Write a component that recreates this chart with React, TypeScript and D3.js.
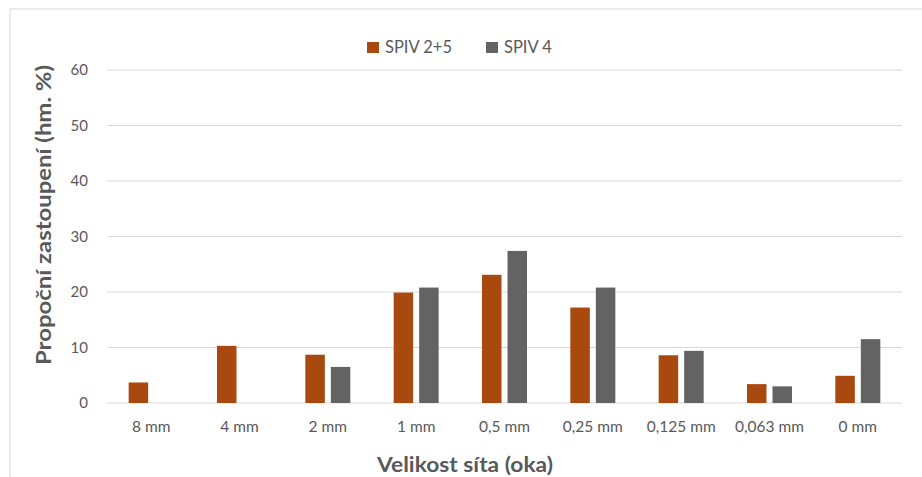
import React from 'react';
import * as d3 from 'd3';

const categories = ['8 mm', '4 mm', '2 mm', '1 mm', '0,5 mm', '0,25 mm', '0,125 mm', '0,063 mm', '0 mm'];
const spiv25 = [3.7, 10.3, 8.7, 19.9, 23.1, 17.2, 8.6, 3.4, 4.9];
const spiv4 = [0, 0, 6.5, 20.8, 27.4, 20.8, 9.4, 3.0, 11.5];
const yTicks = [0, 10, 20, 30, 40, 50, 60];
const seriesNames = ['SPIV 2+5', 'SPIV 4'];
const colors = ['#A8490F', '#636363'];

const width = 922;
const height = 477;
const margin = { top: 70, right: 20, bottom: 74, left: 107 };
const font = 'Lato, "Open Sans", sans-serif';

const App: React.FC = () => {
    const x = d3.scaleBand()
        .domain(categories)
        .range([margin.left, width - margin.right]);

    const y = d3.scaleLinear()
        .domain([0, 60])
        .range([height - margin.bottom, margin.top]);

    const barW = 19.5;
    const gap = 6;
    const sub = d3.scaleOrdinal<string, number>()
        .domain(seriesNames)
        .range([-(barW + gap / 2), gap / 2]);

    const series = [spiv25, spiv4];

    return (
        <svg width={width} height={height}
            style={{ position: 'absolute', left: 0, top: 0, background: '#fff' }}>
            {/* chart frame */}
            <line x1={10} x2={width} y1={9} y2={9} stroke="#d9d9d9" />
            <line x1={10} x2={10} y1={9} y2={height} stroke="#d9d9d9" />

            {/* grid + y ticks */}
            {yTicks.map(t => (
                <g key={t}>
                    <line x1={margin.left} x2={width - margin.right}
                        y1={y(t)} y2={y(t)} stroke="#d9d9d9" strokeWidth={1} />
                    <text x={88} y={y(t)} dy="0.35em" textAnchor="end"
                        fontFamily={font} fontSize={15} fill="#595959">{t}</text>
                </g>
            ))}

            {/* bars */}
            {series.map((vals, si) => (
                <g key={seriesNames[si]} fill={colors[si]}>
                    {vals.map((v, i) => v > 0 && (
                        <rect key={i}
                            x={(x(categories[i]) as number) + x.bandwidth() / 2 + sub(seriesNames[si])}
                            y={y(v)}
                            width={barW}
                            height={y(0) - y(v)} />
                    ))}
                </g>
            ))}

            {/* x labels */}
            {categories.map(c => (
                <text key={c} x={(x(c) as number) + x.bandwidth() / 2} y={432}
                    textAnchor="middle" fontFamily={font} fontSize={15.5} fill="#595959">{c}</text>
            ))}

            {/* axis titles */}
            <text x={465} y={472} textAnchor="middle" fontFamily={font} fontSize={21}
                fontWeight="bold" fill="#595959"
                textLength={176} lengthAdjust="spacingAndGlyphs">Velikost síta (oka)</text>
            <text transform={`translate(51,215) rotate(-90)`}
                textAnchor="middle" fontFamily={font} fontSize={21}
                fontWeight="bold" fill="#595959"
                textLength={300} lengthAdjust="spacingAndGlyphs">Propoční zastoupení (hm. %)</text>

            {/* legend */}
            {seriesNames.map((s, i) => {
                const lx = i === 0 ? 367 : 486;
                return (
                    <g key={s}>
                        <rect x={lx} y={42} width={12} height={11} fill={colors[i]} />
                        <text x={lx + 18} y={47.5} dy="0.35em" fontFamily={font}
                            fontSize={16.5} fill="#595959">{s}</text>
                    </g>
                );
            })}
        </svg>
    );
};

export default App;
